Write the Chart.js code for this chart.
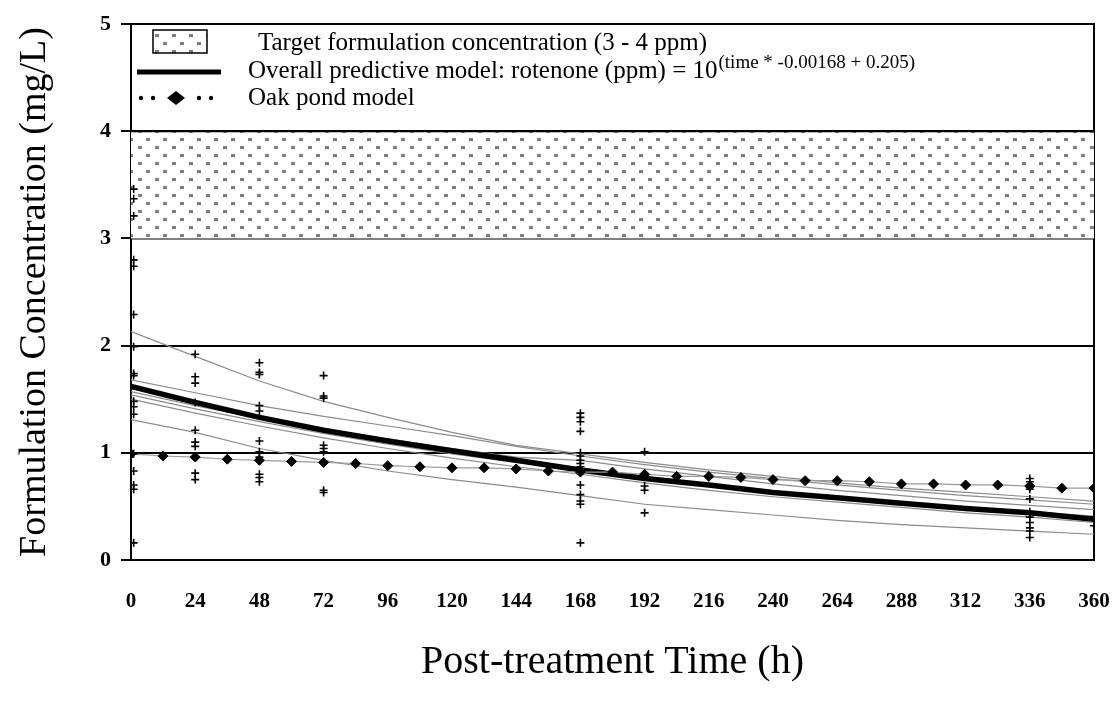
<!DOCTYPE html>
<html>
<head>
<meta charset="utf-8">
<script src="https://cdn.jsdelivr.net/npm/chart.js@4.4.0/dist/chart.umd.min.js"></script>
<style>
  html, body { margin: 0; padding: 0; background: #fff; }
  #wrap { width: 1117px; height: 704px; }
</style>
</head>
<body>
<div id="wrap"><canvas id="chart" width="1117" height="704"></canvas></div>
<script>
// model curves, every 24 h
const hours = [0, 24, 48, 72, 96, 120, 144, 168, 192, 216, 240, 264, 288, 312, 336, 360];
const overallModel = [1.62, 1.47, 1.33, 1.21, 1.11, 1.02, 0.93, 0.84, 0.76, 0.70, 0.63, 0.58, 0.53, 0.48, 0.44, 0.38];
const pondA = [2.13, 1.90, 1.67, 1.48, 1.33, 1.19, 1.07, 0.99, 0.91, 0.84, 0.78, 0.72, 0.67, 0.63, 0.59, 0.55];
const pondB = [1.68, 1.56, 1.44, 1.34, 1.25, 1.16, 1.06, 0.97, 0.89, 0.82, 0.76, 0.70, 0.65, 0.60, 0.56, 0.52];
const pondC = [1.57, 1.44, 1.32, 1.22, 1.13, 1.04, 0.96, 0.93, 0.85, 0.78, 0.71, 0.65, 0.60, 0.55, 0.51, 0.47];
const pondD = [1.54, 1.41, 1.29, 1.18, 1.08, 0.99, 0.91, 0.86, 0.78, 0.71, 0.64, 0.59, 0.54, 0.49, 0.45, 0.41];
const pondE = [1.50, 1.37, 1.25, 1.14, 1.04, 0.95, 0.87, 0.80, 0.72, 0.65, 0.59, 0.54, 0.49, 0.44, 0.40, 0.35];
const pondF = [1.31, 1.19, 1.04, 0.93, 0.83, 0.75, 0.68, 0.60, 0.52, 0.47, 0.42, 0.37, 0.33, 0.30, 0.27, 0.24];

// Oak pond model, every 12 h
const oakHours = [0, 12, 24, 36, 48, 60, 72, 84, 96, 108, 120, 132, 144, 156, 168, 180,
                  192, 204, 216, 228, 240, 252, 264, 276, 288, 300, 312, 324, 336, 348, 360];
const oakModel = [0.99, 0.97, 0.96, 0.94, 0.93, 0.92, 0.91, 0.90, 0.88, 0.87, 0.86, 0.86, 0.85, 0.83, 0.82, 0.82,
                  0.80, 0.78, 0.78, 0.77, 0.75, 0.74, 0.74, 0.73, 0.71, 0.71, 0.70, 0.70, 0.69, 0.67, 0.67];

// measured samples (+)
const sampleHours = [
  1, 1, 1, 1, 1, 1, 1, 1, 1, 1, 1, 1, 1, 1, 1, 1, 1,
  24, 24, 24, 24, 24, 24, 24, 24, 24,
  48, 48, 48, 48, 48, 48, 48, 48, 48, 48, 48,
  72, 72, 72, 72, 72, 72, 72, 72,
  168, 168, 168, 168, 168, 168, 168, 168, 168, 168, 168, 168, 168, 168,
  192, 192, 192, 192, 192,
  336, 336, 336, 336, 336, 336, 336, 336, 336, 336, 336, 336,
  360, 360
];
const sampleConc = [
  3.46, 3.37, 3.21, 2.80, 2.74, 2.29, 1.99, 1.74, 1.72, 1.48, 1.43, 1.36, 0.99, 0.83, 0.70, 0.66, 0.16,
  1.92, 1.71, 1.65, 1.47, 1.21, 1.10, 1.06, 0.81, 0.75,
  1.84, 1.75, 1.73, 1.44, 1.39, 1.11, 1.01, 0.96, 0.80, 0.77, 0.73,
  1.72, 1.53, 1.51, 1.07, 1.04, 1.01, 0.65, 0.63,
  1.37, 1.33, 1.29, 1.20, 1.00, 0.97, 0.93, 0.90, 0.87, 0.70, 0.61, 0.55, 0.52, 0.16,
  1.01, 0.78, 0.69, 0.65, 0.44,
  0.76, 0.73, 0.70, 0.68, 0.66, 0.57, 0.45, 0.40, 0.35, 0.30, 0.27, 0.21,
  0.40, 0.32
];

const targetLow = 3;
const targetHigh = 4;

const serif = '"Liberation Serif", "Times New Roman", serif';

const canvas = document.getElementById('chart');
const ctx = canvas.getContext('2d');

function makeDots() {
  const c = document.createElement('canvas');
  c.width = 17; c.height = 16;
  const g = c.getContext('2d');
  g.fillStyle = '#fff';
  g.fillRect(0, 0, 17, 16);
  g.fillStyle = '#7f7f7f';
  g.fillRect(2, 2, 4, 3);
  g.fillRect(10, 10, 4, 3);
  return ctx.createPattern(c, 'repeat');
}
const dots = makeDots();

const pts = (xs, ys) => xs.map((x, i) => ({ x: x, y: ys[i] }));

const grayLine = (ys) => ({
  data: pts(hours, ys),
  borderColor: '#8c8c8c',
  borderWidth: 1.2,
  pointRadius: 0,
  fill: false,
  order: 4
});

const frame = {
  id: 'frame',
  beforeDatasetsDraw(chart) {
    const a = chart.chartArea;
    const c = chart.ctx;
    c.save();
    c.strokeStyle = '#000';
    c.lineWidth = 2;
    c.beginPath();
    c.moveTo(a.left, a.top);
    c.lineTo(a.right, a.top);
    c.lineTo(a.right, a.bottom);
    c.stroke();
    c.restore();
  }
};

// legend sits inside the plot, drawn by hand because of the superscript
const legendBox = {
  id: 'legendBox',
  afterDraw(chart) {
    const c = chart.ctx;
    c.save();
    c.fillStyle = dots;
    c.fillRect(153, 30, 54, 23);
    c.strokeStyle = '#000';
    c.lineWidth = 1.5;
    c.strokeRect(153, 30, 54, 23);

    c.lineWidth = 5;
    c.beginPath();
    c.moveTo(137, 72);
    c.lineTo(221, 72);
    c.stroke();

    c.fillStyle = '#000';
    [141, 153, 199, 211].forEach(x => {
      c.beginPath();
      c.arc(x, 98, 2.2, 0, 2 * Math.PI);
      c.fill();
    });
    c.beginPath();
    c.moveTo(176, 91);
    c.lineTo(185, 98);
    c.lineTo(176, 105);
    c.lineTo(167, 98);
    c.closePath();
    c.fill();

    c.textBaseline = 'middle';
    c.textAlign = 'left';
    c.font = '25px ' + serif;
    c.fillText('Target formulation concentration (3 - 4 ppm)', 258, 43);
    const s = 'Overall predictive model: rotenone (ppm) = 10';
    c.fillText(s, 248, 71);
    const w = c.measureText(s).width;
    c.fillText('Oak pond model', 248, 98);
    c.font = '19px ' + serif;
    c.fillText('(time * -0.00168 + 0.205)', 248 + w + 1, 63);
    c.restore();
  }
};

new Chart(ctx, {
  type: 'line',
  data: {
    datasets: [
      {
        data: pts(sampleHours, sampleConc),
        showLine: false,
        pointStyle: 'cross',
        pointRadius: 4,
        borderColor: '#000',
        borderWidth: 1.6,
        order: 0
      },
      {
        data: pts(oakHours, oakModel),
        borderColor: '#9a9a9a',
        borderWidth: 1.2,
        pointStyle: 'rectRot',
        pointRadius: 5,
        pointBackgroundColor: '#000',
        pointBorderColor: '#000',
        pointBorderWidth: 1,
        order: 1
      },
      {
        data: pts(hours, overallModel),
        borderColor: '#000',
        borderWidth: 5.5,
        pointRadius: 0,
        order: 2
      },
      grayLine(pondA),
      grayLine(pondB),
      grayLine(pondC),
      grayLine(pondD),
      grayLine(pondE),
      grayLine(pondF),
      {
        data: [{ x: 0, y: targetHigh }, { x: 360, y: targetHigh }],
        borderColor: '#000',
        borderWidth: 2,
        pointRadius: 0,
        backgroundColor: dots,
        fill: { value: targetLow },
        order: 9
      },
      {
        data: [{ x: 0, y: targetLow }, { x: 360, y: targetLow }],
        borderColor: '#000',
        borderWidth: 2,
        pointRadius: 0,
        fill: false,
        order: 9
      }
    ]
  },
  options: {
    responsive: false,
    animation: false,
    layout: { padding: { top: 24, right: 23, left: 0, bottom: 0 } },
    elements: { line: { tension: 0 } },
    plugins: {
      legend: { display: false },
      tooltip: { enabled: false }
    },
    scales: {
      x: {
        type: 'linear',
        min: 0,
        max: 360,
        afterFit: (s) => { s.height = 144; },
        ticks: {
          stepSize: 24,
          autoSkip: false,
          maxRotation: 0,
          padding: 2,
          color: '#000',
          font: { family: serif, size: 21, weight: 'bold' }
        },
        grid: { display: false, drawTicks: true, tickLength: 27 },
        border: { display: true, color: '#000', width: 2 },
        title: {
          display: true,
          text: 'Post-treatment Time (h)',
          color: '#000',
          font: { family: serif, size: 40 },
          padding: { top: 0, bottom: 18 }
        }
      },
      y: {
        min: 0,
        max: 5,
        afterFit: (s) => { s.width = 131; },
        ticks: {
          stepSize: 1,
          padding: 10,
          color: '#000',
          font: { family: serif, size: 22, weight: 'bold' }
        },
        grid: { color: '#000', lineWidth: 2, tickLength: 10 },
        border: { display: true, color: '#000', width: 2 },
        title: {
          display: true,
          text: 'Formulation Concentration (mg/L)',
          color: '#000',
          font: { family: serif, size: 38 },
          padding: { top: 12, bottom: 0 }
        }
      }
    }
  },
  plugins: [frame, legendBox]
});
</script>
</body>
</html>
